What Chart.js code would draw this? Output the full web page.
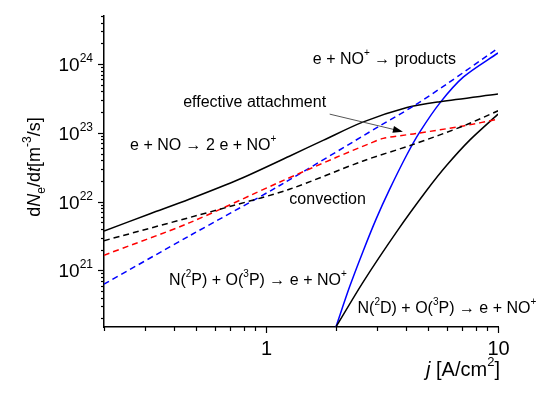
<!DOCTYPE html>
<html>
<head>
<meta charset="utf-8">
<script src="https://cdn.jsdelivr.net/npm/chart.js@4.4.1/dist/chart.umd.min.js"></script>
<style>
  body { margin: 0; background: #fff; }
</style>
</head>
<body>
<canvas id="rateChart" width="550" height="396"></canvas>
<script>
// current density j [A/cm2] and electron rates dNe/dt [m^-3/s]
var jIonization = [0.2, 0.316, 0.466, 0.766, 1.26, 1.77, 2.61, 4.05, 5.62, 10];
var rateIonization = [3.73e21, 6.65e21, 1.08e22, 2.11e22, 4.57e22, 7.82e22, 1.43e23, 2.33e23, 2.84e23, 3.66e23];

var jConvection = [0.2, 0.716, 1.26, 2.62, 4.32, 7.1, 10];
var rateConvection = [2.7e21, 8.7e21, 1.51e22, 3.9e22, 6.8e22, 1.26e23, 2.09e23];

var jAttachment = [0.2, 0.466, 1.14, 2.0, 2.8, 3.2, 4.46, 7.1, 10];
var rateAttachment = [1.66e21, 4.9e21, 1.91e22, 4.37e22, 7.0e22, 8.3e22, 9.8e22, 1.26e23, 1.58e23];

var jRecomb = [0.2, 0.466, 1.14, 3.09, 4.32, 6.0, 10];
var rateRecomb = [6.3e20, 3.16e21, 1.7e22, 1.26e23, 2.45e23, 5.1e23, 1.7e24];

var jN2P = [2.0, 2.295, 2.62, 2.99, 3.4, 4.04, 4.61, 5.63, 7.1, 10];
var rateN2P = [1.5e20, 5.85e20, 1.9e21, 5.7e21, 1.48e22, 4.76e22, 1.04e23, 2.75e23, 6.5e23, 1.45e24];

var jN2D = [2.0, 2.62, 3.66, 4.93, 6.01, 7.59, 10];
var rateN2D = [1.5e20, 6.76e20, 3.66e21, 1.46e22, 3.37e22, 7.96e22, 1.87e23];

// axis limits
var jMin = 0.2, jMax = 10;
var rateMin = 1.5e20, rateMax = 5e24;

// curve labels (left edge / vertical middle in data units)
var noteText = [
  'e + NO^{+} \u2192 products',
  'effective attachment',
  'e + NO \u2192 2 e + NO^{+}',
  'convection',
  'N(^{2}P) + O(^{3}P) \u2192 e + NO^{+}',
  'N(^{2}D) + O(^{3}P) \u2192 e + NO^{+}'
];
var noteJ = [1.59, 0.439, 0.259, 1.26, 0.381, 2.48];
var noteRate = [1.22e24, 2.9e23, 6.8e22, 1.12e22, 7.4e20, 2.9e20];

// arrow from the "effective attachment" label
var arrowJ = [1.88, 3.89];
var arrowRate = [1.87e23, 1.04e23];

var FONT = "'Liberation Sans', Arial, sans-serif";

function pts(xs, ys) {
  return xs.map(function (x, i) { return { x: x, y: ys[i] }; });
}

function makeSet(xs, ys, color, dashed) {
  return {
    data: pts(xs, ys),
    borderColor: color,
    borderWidth: 1.5,
    borderDash: dashed ? [6, 4] : [],
    pointRadius: 0,
    fill: false,
    tension: 0.3
  };
}

// tiny markup: ^{..} superscript, _{..} subscript, |..| italic
function parseRich(str) {
  var parts = [], buf = '', italic = false, i = 0;
  function flush() { if (buf) { parts.push({ t: buf, m: 0, it: italic }); buf = ''; } }
  while (i < str.length) {
    var c = str[i];
    if ((c === '^' || c === '_') && str[i + 1] === '{') {
      flush();
      var end = str.indexOf('}', i);
      parts.push({ t: str.slice(i + 2, end), m: c === '^' ? 1 : -1, it: italic });
      i = end + 1;
      continue;
    }
    if (c === '|') { flush(); italic = !italic; i++; continue; }
    buf += c;
    i++;
  }
  flush();
  return parts;
}

function partFont(p, size) {
  var s = p.m === 0 ? size : Math.round(size * 0.65);
  return (p.it ? 'italic ' : '') + s + 'px ' + FONT;
}

function richWidth(ctx, parts, size) {
  var w = 0;
  parts.forEach(function (p) { ctx.font = partFont(p, size); w += ctx.measureText(p.t).width; });
  return w;
}

function drawRich(ctx, str, x, y, size, align) {
  var parts = parseRich(str);
  var w = richWidth(ctx, parts, size);
  if (align === 'right') x -= w;
  else if (align === 'center') x -= w / 2;
  ctx.textBaseline = 'alphabetic';
  ctx.textAlign = 'left';
  parts.forEach(function (p) {
    ctx.font = partFont(p, size);
    var dy = p.m === 1 ? -size * 0.5 : (p.m === -1 ? size * 0.25 : 0);
    ctx.fillText(p.t, x, y + dy);
    x += ctx.measureText(p.t).width;
  });
}

var decorations = {
  id: 'decorations',
  afterDraw: function (chart) {
    var ctx = chart.ctx;
    var xs = chart.scales.x, ys = chart.scales.y;
    var area = chart.chartArea;
    ctx.save();
    ctx.fillStyle = '#000';
    ctx.strokeStyle = '#000';
    ctx.lineWidth = 1.2;

    // y ticks and labels
    for (var d = 20; d <= 24; d++) {
      for (var m = 1; m <= 9; m++) {
        var v = m * Math.pow(10, d);
        if (v < rateMin * 0.999 || v > rateMax * 1.001) continue;
        var py = Math.round(ys.getPixelForValue(v)) + 0.5;
        var len = m === 1 ? 6 : 3;
        ctx.beginPath();
        ctx.moveTo(area.left - len, py);
        ctx.lineTo(area.left, py);
        ctx.stroke();
        if (m === 1) drawRich(ctx, '10^{' + d + '}', 93, py + 6.5, 19, 'right');
      }
    }

    // x ticks and labels
    for (var dx = -1; dx <= 1; dx++) {
      for (var k = 1; k <= 9; k++) {
        var vx = k * Math.pow(10, dx);
        if (vx < jMin * 0.999 || vx > jMax * 1.001) continue;
        var px = Math.round(xs.getPixelForValue(vx)) + 0.5;
        var lx = k === 1 ? 6 : 4;
        ctx.beginPath();
        ctx.moveTo(px, area.bottom);
        ctx.lineTo(px, area.bottom + lx);
        ctx.stroke();
        if (k === 1) drawRich(ctx, String(Math.round(vx)), px, 355, 20, 'center');
      }
    }

    // axis titles
    drawRich(ctx, '|j| [A/cm^{2}]', 463, 376, 20, 'center');
    ctx.save();
    ctx.translate(40, 167);
    ctx.rotate(-Math.PI / 2);
    drawRich(ctx, 'd|N|_{e}/d|t|[m^{-3}/s]', 0, 0, 18, 'center');
    ctx.restore();

    // curve labels
    noteText.forEach(function (t, i) {
      var nx = xs.getPixelForValue(noteJ[i]);
      var ny = ys.getPixelForValue(noteRate[i]);
      drawRich(ctx, t, nx, ny + 5.5, 16, 'left');
    });

    // arrow
    var x0 = xs.getPixelForValue(arrowJ[0]), y0 = ys.getPixelForValue(arrowRate[0]);
    var x1 = xs.getPixelForValue(arrowJ[1]), y1 = ys.getPixelForValue(arrowRate[1]);
    var ang = Math.atan2(y1 - y0, x1 - x0);
    ctx.strokeStyle = '#555';
    ctx.lineWidth = 1;
    ctx.beginPath();
    ctx.moveTo(x0, y0);
    ctx.lineTo(x1 - 8 * Math.cos(ang), y1 - 8 * Math.sin(ang));
    ctx.stroke();
    ctx.fillStyle = '#000';
    ctx.beginPath();
    ctx.moveTo(x1, y1);
    ctx.lineTo(x1 - 10 * Math.cos(ang) + 3.5 * Math.sin(ang), y1 - 10 * Math.sin(ang) - 3.5 * Math.cos(ang));
    ctx.lineTo(x1 - 10 * Math.cos(ang) - 3.5 * Math.sin(ang), y1 - 10 * Math.sin(ang) + 3.5 * Math.cos(ang));
    ctx.closePath();
    ctx.fill();

    ctx.restore();
  }
};

var ctx = document.getElementById('rateChart').getContext('2d');
var rateChart = new Chart(ctx, {
  type: 'line',
  data: {
    datasets: [
      makeSet(jConvection, rateConvection, '#000000', true),
      makeSet(jAttachment, rateAttachment, '#ff0000', true),
      makeSet(jRecomb, rateRecomb, '#0000ff', true),
      makeSet(jIonization, rateIonization, '#000000', false),
      makeSet(jN2D, rateN2D, '#000000', false),
      makeSet(jN2P, rateN2P, '#0000ff', false)
    ]
  },
  options: {
    responsive: false,
    animation: false,
    devicePixelRatio: 1,
    layout: { padding: { top: 16, right: 52, left: 0, bottom: 0 } },
    plugins: { legend: { display: false }, tooltip: { enabled: false } },
    scales: {
      x: {
        type: 'logarithmic',
        min: jMin,
        max: jMax,
        grid: { display: false },
        border: { display: true, color: '#000', width: 1.5 },
        ticks: { display: false },
        afterFit: function (scale) { scale.height = 69; }
      },
      y: {
        type: 'logarithmic',
        min: rateMin,
        max: rateMax,
        grid: { display: false },
        border: { display: true, color: '#000', width: 1.5 },
        ticks: { display: false },
        afterFit: function (scale) { scale.width = 104; }
      }
    }
  },
  plugins: [decorations]
});
</script>
</body>
</html>
